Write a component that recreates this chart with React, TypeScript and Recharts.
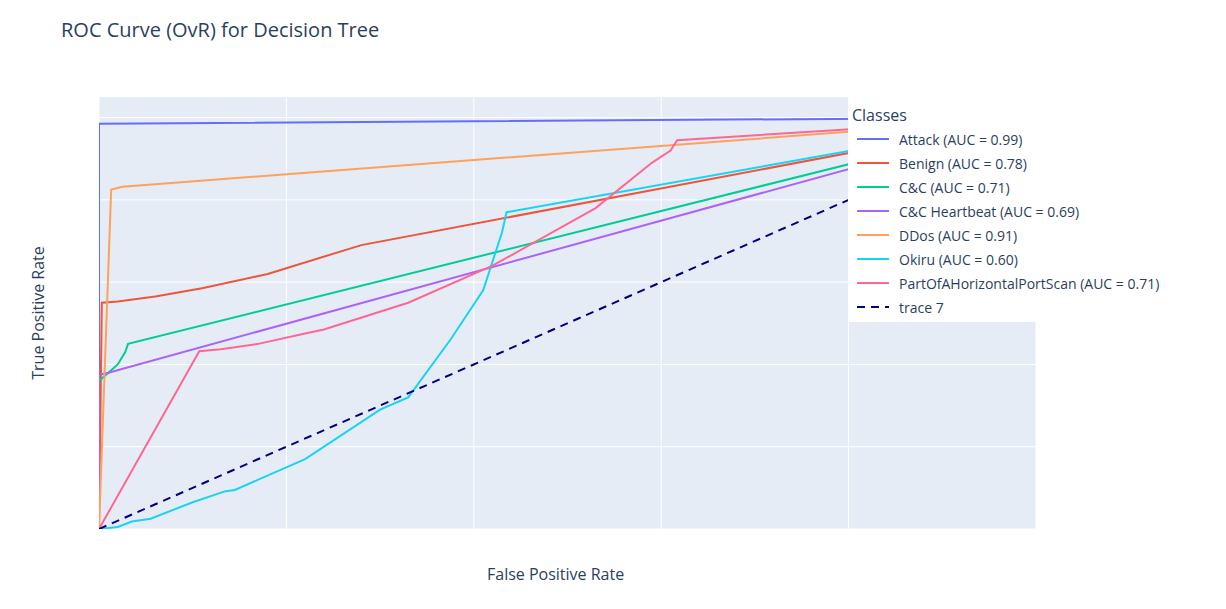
import React from 'react'
import { LineChart, Line, XAxis, YAxis, CartesianGrid } from 'recharts'

type Pt = { x: number; y: number }

const attack: Pt[] = [{ x: 0, y: 0 }, { x: 0, y: 0.985 }, { x: 1, y: 1 }]
const benign: Pt[] = [
  { x: 0, y: 0 }, { x: 0.003, y: 0.55 }, { x: 0.02, y: 0.553 }, { x: 0.06, y: 0.565 },
  { x: 0.11, y: 0.585 }, { x: 0.18, y: 0.62 }, { x: 0.28, y: 0.69 }, { x: 1, y: 1 },
]
const cc: Pt[] = [
  { x: 0, y: 0 }, { x: 0, y: 0.36 }, { x: 0.01, y: 0.38 }, { x: 0.02, y: 0.4 },
  { x: 0.028, y: 0.43 }, { x: 0.031, y: 0.45 }, { x: 1, y: 1 },
]
const ccHeartbeat: Pt[] = [{ x: 0, y: 0 }, { x: 0, y: 0.375 }, { x: 0.01, y: 0.38 }, { x: 1, y: 1 }]
const ddos: Pt[] = [{ x: 0, y: 0 }, { x: 0.013, y: 0.825 }, { x: 0.025, y: 0.832 }, { x: 1, y: 1 }]
const okiru: Pt[] = [
  { x: 0, y: 0 }, { x: 0.02, y: 0.005 }, { x: 0.035, y: 0.018 }, { x: 0.055, y: 0.025 },
  { x: 0.1, y: 0.065 }, { x: 0.135, y: 0.092 }, { x: 0.145, y: 0.095 }, { x: 0.22, y: 0.17 },
  { x: 0.3, y: 0.29 }, { x: 0.33, y: 0.32 }, { x: 0.375, y: 0.46 }, { x: 0.41, y: 0.58 },
  { x: 0.43, y: 0.72 }, { x: 0.435, y: 0.77 }, { x: 1, y: 1 },
]
const portScan: Pt[] = [
  { x: 0, y: 0 }, { x: 0.107, y: 0.432 }, { x: 0.13, y: 0.437 }, { x: 0.17, y: 0.45 },
  { x: 0.22, y: 0.475 }, { x: 0.24, y: 0.485 }, { x: 0.33, y: 0.55 }, { x: 0.42, y: 0.64 },
  { x: 0.53, y: 0.78 }, { x: 0.59, y: 0.89 }, { x: 0.61, y: 0.92 }, { x: 0.617, y: 0.945 },
  { x: 1, y: 1 },
]
const diagonal: Pt[] = [{ x: 0, y: 0 }, { x: 1, y: 1 }]

const xTicks = [0, 0.2, 0.4, 0.6, 0.8, 1]
const yTicks = [0, 0.2, 0.4, 0.6, 0.8, 1]

const series = [
  { name: 'Attack (AUC = 0.99)', data: attack, color: '#636efa' },
  { name: 'Benign (AUC = 0.78)', data: benign, color: '#EF553B' },
  { name: 'C&C (AUC = 0.71)', data: cc, color: '#00cc96' },
  { name: 'C&C Heartbeat (AUC = 0.69)', data: ccHeartbeat, color: '#ab63fa' },
  { name: 'DDos (AUC = 0.91)', data: ddos, color: '#FFA15A' },
  { name: 'Okiru (AUC = 0.60)', data: okiru, color: '#19d3f3' },
  { name: 'PartOfAHorizontalPortScan (AUC = 0.71)', data: portScan, color: '#FF6692' },
  { name: 'trace 7', data: diagonal, color: 'navy', dash: '8 6' },
]

const font = '"Open Sans", Arial, sans-serif'
const ink = '#2a3f5f'
const fmt = (v: number) => (v === 0 || v === 1 ? String(v) : v.toFixed(1))

export default function App() {
  document.body.style.margin = '0'
  return (
    <div style={{ position: 'relative', width: 1226, height: 609, background: '#fff', fontFamily: font, color: ink }}>
      <LineChart width={1226} height={609} margin={{ top: 97, right: 190, bottom: 80, left: 99 }}>
        <CartesianGrid fill="#E5ECF6" stroke="#fff" strokeWidth={1} horizontalValues={yTicks} verticalValues={xTicks} />
        <XAxis type="number" dataKey="x" domain={[0, 1]} ticks={xTicks} tickFormatter={fmt} height={0}
          axisLine={false} tickLine={false} tick={{ fill: ink, fontSize: 12, fontFamily: font }} tickMargin={4} allowDataOverflow />
        <YAxis type="number" dataKey="y" domain={[0, 1.05]} ticks={yTicks} tickFormatter={fmt} width={0}
          axisLine={false} tickLine={false} tick={{ fill: ink, fontSize: 12, fontFamily: font }} tickMargin={6} allowDataOverflow />
        {series.map((s) => (
          <Line key={s.name} data={s.data} dataKey="y" type="linear" stroke={s.color} strokeWidth={2}
            strokeDasharray={s.dash} dot={false} isAnimationActive={false} />
        ))}
      </LineChart>
      <div style={{ position: 'absolute', left: 61, top: 16, fontSize: 20 }}>ROC Curve (OvR) for Decision Tree</div>
      <div style={{ position: 'absolute', left: 487, top: 563, fontSize: 16 }}>False Positive Rate</div>
      <div style={{ position: 'absolute', left: 38, top: 313, fontSize: 16, transform: 'translate(-50%, -50%) rotate(-90deg)', whiteSpace: 'nowrap' }}>True Positive Rate</div>
      <div style={{ position: 'absolute', left: 848, top: 97, width: 366, height: 225, background: '#fff' }}>
        <div style={{ position: 'absolute', left: 4, top: 7, fontSize: 16 }}>Classes</div>
        {series.map((s, i) => (
          <div key={s.name} style={{ position: 'absolute', left: 9, top: 32 + i * 24, height: 20, display: 'flex', alignItems: 'center', fontSize: 14, whiteSpace: 'nowrap' }}>
            <svg width={32} height={4} style={{ marginRight: 10 }}>
              <line x1={0} y1={2} x2={32} y2={2} stroke={s.color} strokeWidth={2} strokeDasharray={s.dash ? '8 6' : undefined} />
            </svg>
            {s.name}
          </div>
        ))}
      </div>
    </div>
  )
}
